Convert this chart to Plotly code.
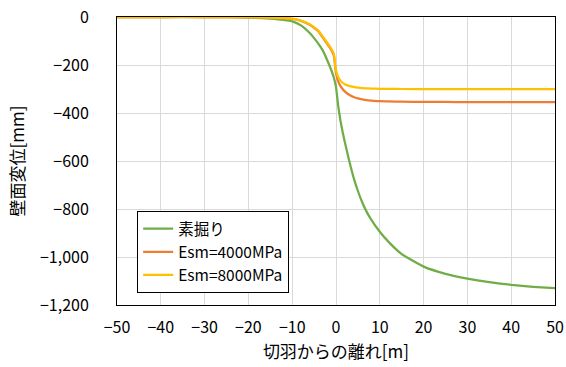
import plotly.graph_objects as go

x_dist = [-50, -40, -30, -25, -20, -17, -15, -12, -10, -8, -6, -5, -4, -3, -2, -1, -0.5,
          0, 0.5, 1, 1.5, 2, 3, 4, 5, 6, 7, 8, 10, 12, 15, 20, 25, 30, 35, 40, 45, 50]

sobori = [0, 0, -0.5, -1, -3, -5, -7, -12, -18, -35, -67, -88, -112, -140, -180, -225, -252,
          -291, -370, -430, -478, -520, -598, -668, -725, -773, -812, -843, -895, -937, -988,
          -1040, -1070, -1090, -1105, -1116, -1124, -1130]

esm4000 = [0, 0, 0, -0.5, -1, -2, -3, -5, -8, -16, -32, -45, -60, -86, -112, -140, -160,
           -235, -268, -287, -300, -310, -324, -333, -339, -343, -346, -348, -351, -352, -353,
           -354, -354, -355, -355, -355, -355, -355]

esm8000 = [0, 0, 0, -0.5, -1, -2, -3, -5, -7, -15, -30, -42, -57, -82, -107, -135, -152,
           -222, -250, -265, -274, -280, -287, -291, -294, -296, -297, -298, -299, -299, -300,
           -300, -300, -300, -300, -300, -300, -300]

series_names = ["素掘り", "Esm=4000MPa", "Esm=8000MPa"]
series_colors = ["#70AD47", "#ED7D31", "#FFC000"]

y_tickvals = [0, -200, -400, -600, -800, -1000, -1200]
y_ticktext = ["0", "−200", "−400", "−600", "−800", "−1,000", "−1,200"]
x_tickvals = [-50, -40, -30, -20, -10, 0, 10, 20, 30, 40, 50]
x_ticktext = ["−50", "−40", "−30", "−20", "−10", "0", "10", "20", "30", "40", "50"]

FONT = "Noto Sans CJK JP"

fig = go.Figure()
for name, ys, col in zip(series_names, [sobori, esm4000, esm8000], series_colors):
    fig.add_trace(go.Scatter(x=x_dist, y=ys, mode="lines", name=name,
                             line=dict(color=col, width=2.25, shape="spline", smoothing=0.4)))

fig.update_layout(
    width=566, height=367,
    margin=dict(l=117, r=11, t=17, b=62, autoexpand=False),
    paper_bgcolor="white", plot_bgcolor="white",
    font=dict(family=FONT, color="#000000", size=16),
    legend=dict(x=0.046, y=0.326, xanchor="left", yanchor="top",
                bgcolor="white", bordercolor="#000000", borderwidth=1,
                font=dict(family=FONT, size=15.5, color="#000000"),
                tracegroupgap=0),
    showlegend=True,
)
fig.update_xaxes(range=[-50, 50], tickvals=x_tickvals, ticktext=x_ticktext,
                 showgrid=True, gridcolor="#d9d9d9", gridwidth=1,
                 showline=True, linecolor="#000000", linewidth=1, mirror=True,
                 zeroline=False, ticks="", ticklabelstandoff=8, automargin=False,
                 tickfont=dict(size=16),
                 title=dict(text="切羽からの離れ[m]", font=dict(size=17), standoff=4))
fig.update_yaxes(range=[-1200, 0], tickvals=y_tickvals, ticktext=y_ticktext,
                 showgrid=True, gridcolor="#d9d9d9", gridwidth=1,
                 showline=True, linecolor="#000000", linewidth=1, mirror=True,
                 zeroline=False, ticks="", ticklabelstandoff=24, automargin=False,
                 tickfont=dict(size=16),
                 title=dict(text="壁面変位[mm]", font=dict(size=17), standoff=10))

fig.write_html(
    "out.html",
    config={"displayModeBar": False},
    post_script="document.body.style.margin='0';document.body.style.padding='0';"
                "document.body.style.overflow='hidden';"
                "document.documentElement.style.overflow='hidden';",
)
